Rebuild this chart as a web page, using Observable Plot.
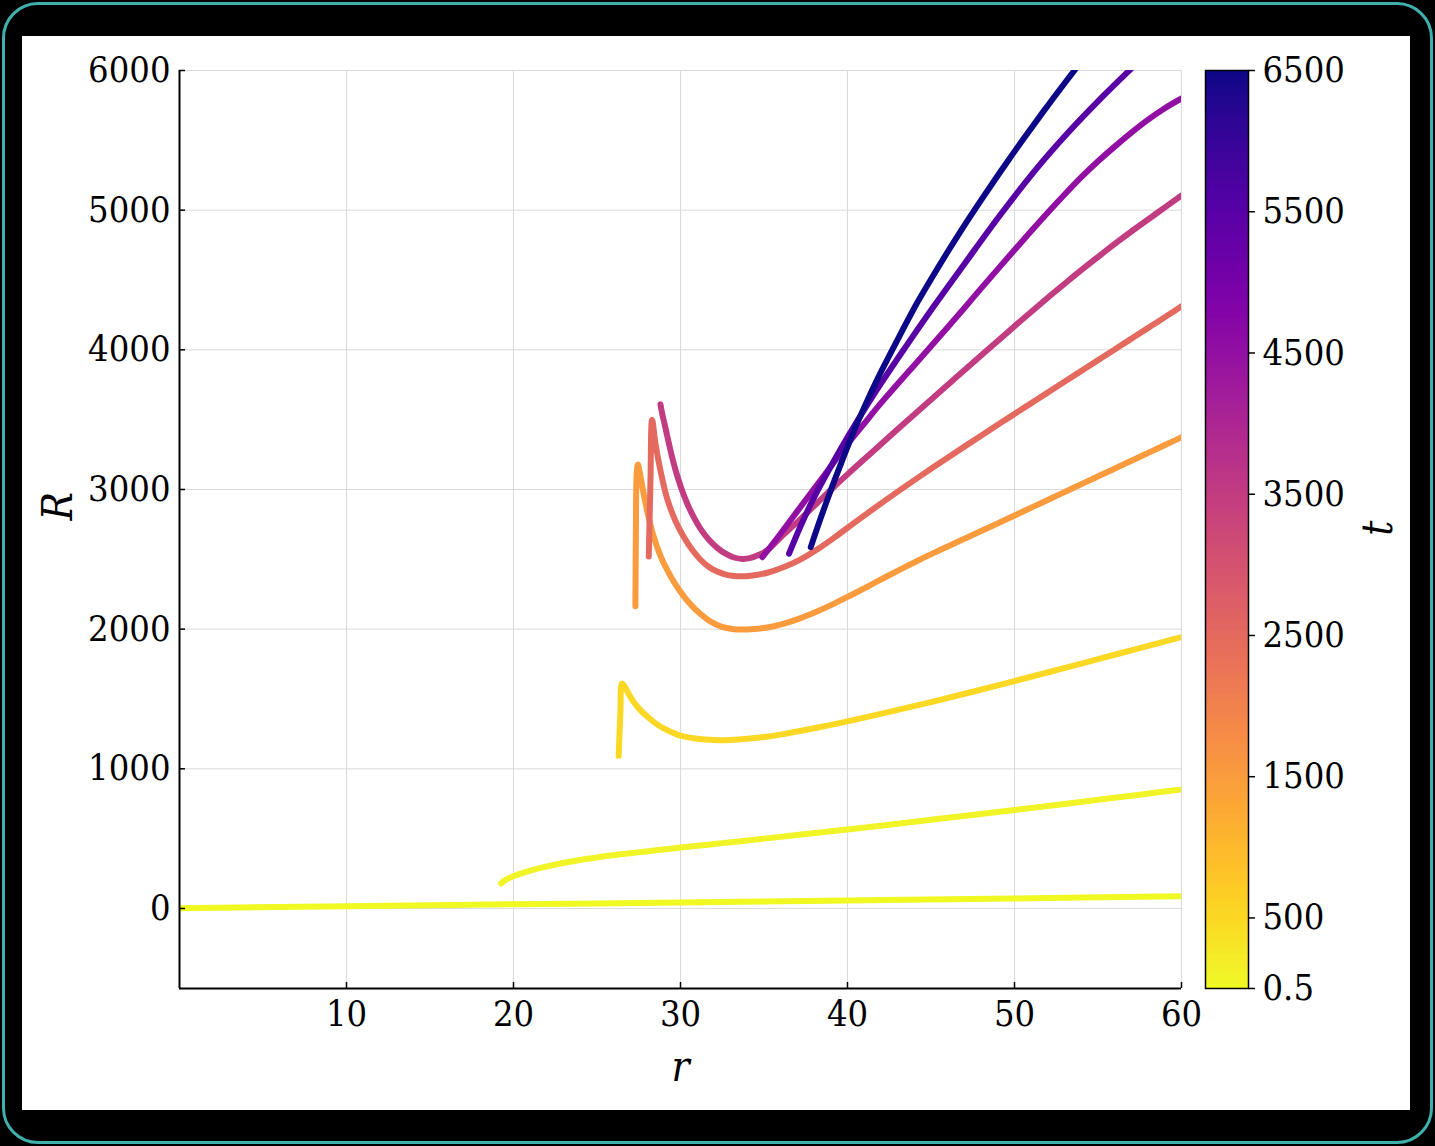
<!DOCTYPE html>
<html>
<head>
<meta charset="utf-8">
<script src="https://cdn.jsdelivr.net/npm/d3@7"></script>
<script src="https://cdn.jsdelivr.net/npm/@observablehq/plot@0.6"></script>
<style>
  html, body { margin: 0; padding: 0; background: #000; width: 1435px; height: 1146px; overflow: hidden; }
  #border { position: absolute; left: 2px; top: 2px; width: 1431px; height: 1142px; box-sizing: border-box;
            border: 3px solid #3fb0ac; border-radius: 36px; }
  #main { position: absolute; left: 22px; top: 36px; }
  #cbar { position: absolute; left: 1190px; top: 36px; }
  svg { overflow: visible; }
</style>
</head>
<body>
<div id="border"></div>
<div id="main"></div>
<div id="cbar"></div>
<script>
// ---- data: t values of each curve and the (r, R) samples ----
const tValues = [0.5, 100, 500, 1500, 2500, 3500, 4500, 5500, 6500];

const curveT0_5 = [[0,2],[10,16],[20,30],[30,43],[40,57],[50,72],[60,88]];
const curveT100 = [[19.26,179],[19.5,203],[20.02,232],[20.8,264],[21.8,296],[22.8,322],[23.8,344],[24.8,362],[25.8,379],[27.3,400],[28.8,420],[30,436],[32.5,468],[35,500],[37.5,533],[40,566],[42.5,600],[45,635],[47.5,670],[50,705],[52.5,741],[55,778],[57.5,815],[60,852]];
const curveT500 = [[26.3,1093],[26.4,1400],[26.5,1610],[26.7,1580],[26.9,1536],[27.2,1478],[27.6,1420],[28.2,1355],[28.6,1318],[29.0,1289],[29.5,1260],[30.0,1238],[31,1215],[32,1206],[33,1207],[34,1215],[35,1228],[36,1245],[38,1290],[40,1340],[42.5,1408],[45,1478],[47.5,1552],[50,1628],[52.5,1706],[55,1785],[57.5,1864],[60,1943]];
const curveT1500 = [[27.3,2164],[27.33,2700],[27.38,3120],[27.45,3179],[27.55,3130],[27.7,3030],[27.9,2905],[28.1,2795],[28.4,2660],[28.8,2525],[29.2,2425],[29.7,2320],[30.2,2235],[30.7,2165],[31.2,2108],[31.7,2062],[32.2,2030],[32.7,2010],[33.2,2000],[33.7,1997],[34.2,1999],[35.2,2012],[36.2,2040],[37.2,2079],[38.2,2128],[39.2,2183],[40.2,2243],[41.2,2305],[42.2,2368],[43.2,2430],[44.2,2490],[45.2,2548],[46.2,2603],[47.2,2658],[48.2,2713],[49.2,2769],[50.2,2825],[51.2,2881],[52.2,2937],[53.2,2993],[54.2,3049],[55.2,3105],[56.2,3161],[57.2,3217],[58.2,3273],[59.2,3329],[60,3374]];
const curveT2500 = [[28.1,2521],[28.2,3050],[28.3,3500],[28.5,3330],[28.8,3135],[29.2,2935],[29.7,2775],[30.2,2660],[30.7,2568],[31.2,2497],[31.7,2445],[32.2,2412],[32.7,2391],[33.2,2381],[33.7,2378],[34.2,2382],[35.2,2404],[36.2,2445],[37.2,2500],[38.2,2572],[39.2,2655],[40.2,2743],[41.2,2831],[42.2,2917],[43.2,3001],[44.2,3083],[45.2,3164],[46.2,3244],[47.2,3323],[48.2,3401],[49.2,3479],[50.2,3556],[51.2,3633],[52.2,3710],[53.2,3787],[54.2,3864],[55.2,3941],[56.2,4018],[57.2,4095],[58.2,4172],[59.2,4249],[60,4311]];
const curveT3500 = [[28.8,3610],[28.9,3545],[29.1,3440],[29.4,3280],[29.7,3140],[30.0,3025],[30.4,2900],[30.8,2800],[31.2,2718],[31.7,2640],[32.2,2582],[32.7,2540],[33.2,2513],[33.7,2503],[34.2,2510],[34.7,2532],[35.2,2565],[36.2,2680],[37.2,2790],[38.2,2905],[39.2,3020],[40.2,3130],[41.2,3238],[42.2,3345],[43.2,3452],[44.2,3558],[45.2,3664],[46.2,3770],[47.2,3876],[48.2,3981],[49.2,4085],[50.2,4190],[51.2,4293],[52.2,4394],[53.2,4493],[54.2,4590],[55.2,4684],[56.2,4776],[57.2,4865],[58.6,4985],[60,5105]];
const curveT4500 = [[34.9,2515],[36,2685],[37,2845],[38,3005],[39,3165],[40,3325],[41,3472],[42,3618],[43,3755],[44,3890],[45,4025],[46,4162],[47,4300],[48,4440],[49,4578],[50,4715],[51,4850],[52,4983],[53,5112],[54,5236],[55,5350],[56,5455],[57,5555],[58,5648],[59,5730],[60,5800]];
const curveT5500 = [[36.5,2540],[37.2,2740],[38.0,2944],[39.0,3165],[40.0,3374],[41.6,3685],[43.4,4007],[45.2,4317],[47.0,4615],[49.2,4974],[51.2,5280],[53.2,5554],[55.2,5804],[57.0,6015],[57.3,6050]];
const curveT6500 = [[37.8,2587],[38.4,2797],[39.0,2995],[39.6,3182],[40.3,3395],[41.0,3588],[41.8,3792],[42.8,4027],[44.0,4300],[45.0,4505],[46.0,4702],[46.8,4854],[48.0,5072],[49.0,5248],[49.9,5403],[51.0,5587],[52.0,5750],[53.0,5909],[53.6,6002],[54.0,6064]];

const xTicks = [10, 20, 30, 40, 50, 60];
const yTicks = [0, 1000, 2000, 3000, 4000, 5000, 6000];
const cTicks = [0.5, 500, 1500, 2500, 3500, 4500, 5500, 6500];

// ---- build a tidy table for the line mark ----
const curves = [curveT0_5, curveT100, curveT500, curveT1500, curveT2500, curveT3500, curveT4500, curveT5500, curveT6500];
const rows = [];
curves.forEach((c, i) => c.forEach(([r, R]) => rows.push({t: tValues[i], r, R})));

const FONT = '"DejaVu Serif Condensed", "DejaVu Serif", serif';
const colorScale = {type: "linear", domain: [0.5, 6500], scheme: "plasma", reverse: true};
const yDomain = [-573, 6000];

const main = Plot.plot({
  width: 1388,
  height: 1074,
  marginLeft: 157,
  marginTop: 34,
  marginRight: 229,
  marginBottom: 122,
  style: {background: "#fff", fontFamily: FONT, fontSize: "36px", fontStretch: "condensed", color: "#000"},
  x: {domain: [0, 60]},
  y: {domain: yDomain},
  color: colorScale,
  marks: [
    Plot.ruleX(xTicks, {stroke: "#dadada", strokeWidth: 1}),
    Plot.ruleY(yTicks, {stroke: "#dadada", strokeWidth: 1}),
    Plot.line(rows, {x: "r", y: "R", z: "t", stroke: "t", strokeWidth: 6, curve: "catmull-rom",
                     strokeLinecap: "round", strokeLinejoin: "round", clip: true}),
    Plot.ruleX([0], {stroke: "#000", strokeWidth: 2}),
    Plot.ruleY([yDomain[0]], {stroke: "#000", strokeWidth: 2}),
    Plot.axisX(xTicks, {anchor: "bottom", tickSize: -6, tickPadding: 18, label: null, tickFormat: d => String(d), strokeWidth: 1.5}),
    Plot.axisY(yTicks, {anchor: "left", tickSize: -6, tickPadding: 15, label: null, tickFormat: d => String(d), strokeWidth: 1.5}),
    Plot.text(["R"], {text: d => d, frameAnchor: "left", dx: -121, dy: -9, rotate: -90, fontStyle: "italic", fontSize: 42}),
    Plot.text(["r"], {text: d => d, frameAnchor: "bottom", dy: 92, fontStyle: "italic", fontSize: 42})
  ]
});
document.getElementById("main").appendChild(main);

// ---- colour bar ----
const nStops = 300;
const stops = d3.range(nStops).map(i => {
  const t0 = 0.5 + (6500 - 0.5) * i / nStops;
  const t1 = 0.5 + (6500 - 0.5) * (i + 1) / nStops;
  return {t0, t1, tm: (t0 + t1) / 2};
});

const cbar = Plot.plot({
  width: 220,
  height: 1074,
  marginLeft: 15,
  marginRight: 162,
  marginTop: 34,
  marginBottom: 122,
  style: {background: "transparent", fontFamily: FONT, fontSize: "36px", fontStretch: "condensed", color: "#000"},
  x: {domain: [0, 1], axis: null},
  y: {domain: [0.5, 6500]},
  color: colorScale,
  marks: [
    Plot.rect(stops, {x1: 0, x2: 1, y1: "t0", y2: "t1", fill: "tm", shapeRendering: "crispEdges"}),
    Plot.frame({stroke: "#000", strokeWidth: 1.5}),
    Plot.axisY(cTicks, {anchor: "right", tickSize: 6, tickPadding: 8, label: null, tickFormat: d => String(d), strokeWidth: 1.5}),
    Plot.text(["t"], {text: d => d, frameAnchor: "right", dx: 130, dy: -9, rotate: -90, fontStyle: "italic", fontSize: 42})
  ]
});
document.getElementById("cbar").appendChild(cbar);
</script>
</body>
</html>
